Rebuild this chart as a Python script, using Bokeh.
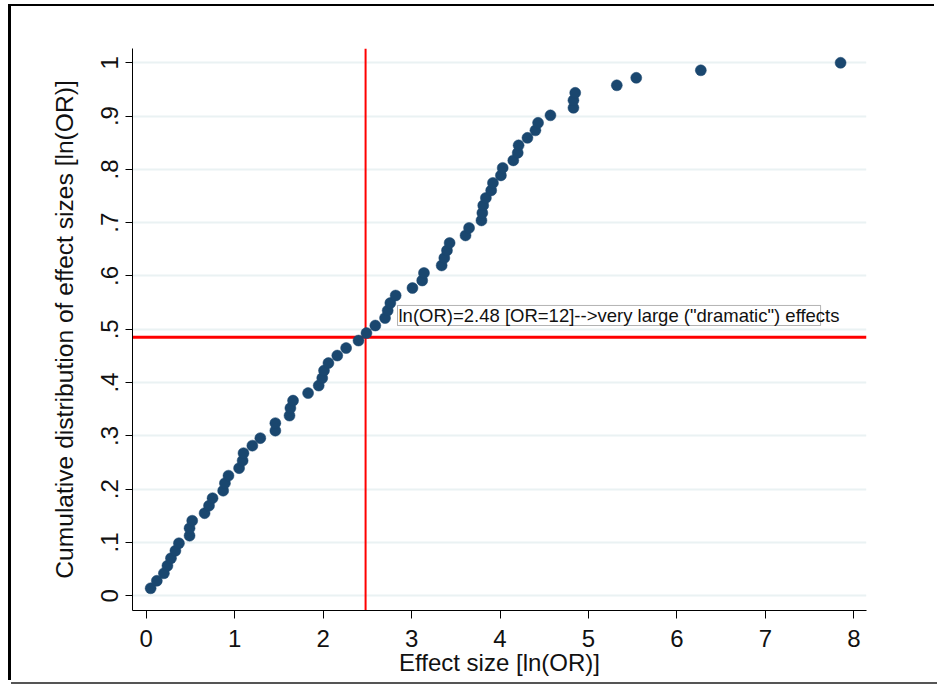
from bokeh.plotting import figure
from bokeh.models import Span, Label, BoxAnnotation, FixedTicker
from bokeh.embed import file_html
from bokeh.resources import INLINE

# ---- data ----
effect_size = [
    0.05, 0.12, 0.20, 0.24, 0.28, 0.33, 0.37, 0.49, 0.49, 0.52,
    0.66, 0.71, 0.75, 0.87, 0.89, 0.93, 1.05, 1.09, 1.10, 1.20,
    1.29, 1.46, 1.46, 1.62, 1.63, 1.66, 1.83, 1.95, 1.99, 2.01,
    2.06, 2.16, 2.26, 2.40, 2.49, 2.59, 2.70, 2.73, 2.76, 2.82,
    3.01, 3.12, 3.14, 3.34, 3.37, 3.40, 3.43, 3.61, 3.65, 3.79,
    3.80, 3.81, 3.84, 3.90, 3.92, 4.01, 4.03, 4.15, 4.20, 4.21,
    4.31, 4.40, 4.43, 4.57, 4.83, 4.83, 4.85, 5.32, 5.54, 6.27,
    7.85,
]
# empirical cumulative distribution (rank / n)
n_obs = len(effect_size)
cum_share = [(k + 1) / n_obs for k in range(n_obs)]

x_ticks = [0, 1, 2, 3, 4, 5, 6, 7, 8]
y_ticks = [0, 0.1, 0.2, 0.3, 0.4, 0.5, 0.6, 0.7, 0.8, 0.9, 1]
y_tick_labels = ["0", ".1", ".2", ".3", ".4", ".5", ".6", ".7", ".8", ".9", "1"]

threshold_x = 2.48
threshold_y = 0.485
note_text = 'ln(OR)=2.48 [OR=12]-->very large ("dramatic") effects'
note_x = 2.852
note_y = 0.526
note_box = dict(left=2.841, right=7.624, bottom=0.5071, top=0.5447)

FONT = "Liberation Sans"

p = figure(
    width=926, height=676,
    x_range=(-0.155, 8.143), y_range=(-0.0276, 1.0268),
    output_backend="svg", toolbar_location=None,
    min_border_left=121, min_border_right=71,
    min_border_top=42, min_border_bottom=72,
)
# outer graph frame (thick black left/top, thin grey bottom) without affecting layout
p.styles = {
    "margin-left": "11px",
    "margin-top": "6px",
    "box-shadow": "-3px -2px 0 0 #000000, 0 2px 0 0 #555555",
}
p.outline_line_color = None
p.background_fill_color = "white"
p.border_fill_color = "white"

# grid
p.xgrid.visible = False
p.ygrid.ticker = FixedTicker(ticks=y_ticks)
p.ygrid.grid_line_color = "#EAF2F3"
p.ygrid.grid_line_width = 2

# reference lines (under points)
p.add_layout(Span(location=threshold_x, dimension="height", line_color="#FF0000",
                  line_width=2, level="underlay"))
p.add_layout(Span(location=threshold_y, dimension="width", line_color="#FF0000",
                  line_width=3, level="underlay"))

p.scatter(effect_size, cum_share, size=11, fill_color="#1A476F",
          line_color="#1A476F", line_width=0.5)

# annotation
p.add_layout(BoxAnnotation(fill_color=None, line_color="black", line_width=1,
                           **note_box))
p.add_layout(Label(x=note_x, y=note_y, text=note_text, text_baseline="middle",
                   text_align="left", text_font=FONT, text_font_size="18.5px",
                   text_color="#111111"))

# axes
xa = p.xaxis[0]
xa.ticker = FixedTicker(ticks=x_ticks)
xa.axis_label = "Effect size [ln(OR)]"
ya = p.yaxis[0]
ya.ticker = FixedTicker(ticks=y_ticks)
ya.major_label_overrides = dict(zip(y_ticks, y_tick_labels))
ya.axis_label = "Cumulative distribution of effect sizes [ln(OR)]"
ya.major_label_orientation = "vertical"

for ax in (xa, ya):
    ax.axis_line_color = "black"
    ax.axis_line_width = 1
    ax.major_tick_line_color = "black"
    ax.major_tick_in = 0
    ax.minor_tick_line_color = None
    ax.major_label_text_font = FONT
    ax.major_label_text_font_size = "24px"
    ax.major_label_text_color = "#111111"
    ax.axis_label_text_font = FONT
    ax.axis_label_text_font_size = "24px"
    ax.axis_label_text_font_style = "normal"
    ax.axis_label_text_color = "#111111"

ya.axis_label_text_font_size = "24.6px"

xa.major_tick_out = 8
xa.major_label_standoff = 11
xa.axis_label_standoff = -1
ya.major_tick_out = 7
ya.major_label_standoff = 7
ya.axis_label_standoff = 21

open("out.html", "w").write(file_html(p, INLINE))
